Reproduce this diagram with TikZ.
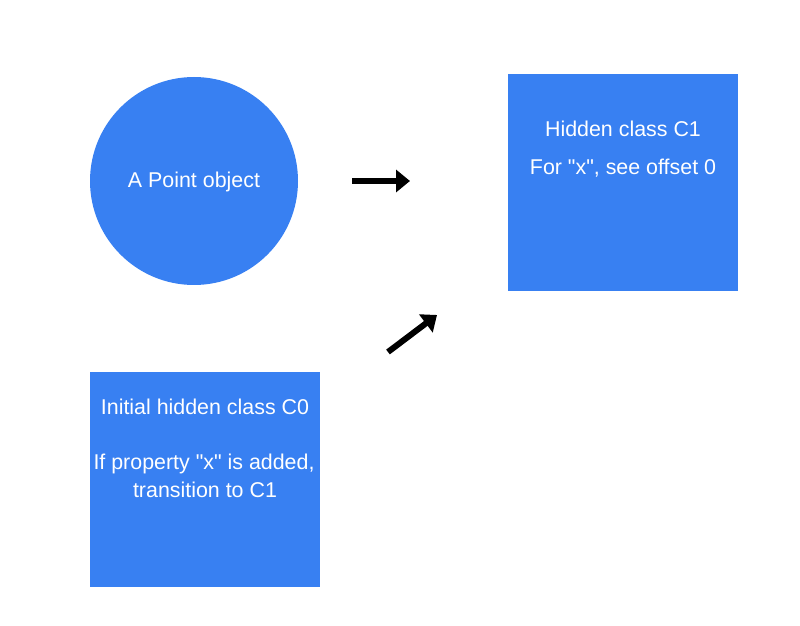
\documentclass[tikz,border=0pt]{standalone}
\usepackage{fontspec}
\setmainfont{Liberation Sans}
\usetikzlibrary{positioning,arrows.meta}
\definecolor{hcblue}{RGB}{56,128,242}

\begin{document}
\begin{tikzpicture}[
  x=0.5pt,y=-0.5pt,
  font=\fontsize{10.7}{13}\selectfont,
  obj/.style={circle,fill=hcblue,minimum size=104pt,inner sep=0pt},
  cls/.style={rectangle,fill=hcblue,minimum width=115pt,inner sep=0pt},
  txt/.style={text=white,anchor=base,inner sep=0pt},
  ar/.style={-{Triangle[length=7pt,width=11pt]},line width=3pt,black},
]
\useasboundingbox (0,0) rectangle (800,626);
\node[obj] (point) at (194,181) {};
\node[cls,minimum height=108.5pt] (c1) at (623,182.5) {};
\node[cls,minimum height=107.5pt] (c0) at (205,479.5) {};
\node[txt] (pointtxt) at (194,188) {A Point object};
\node[txt] (c1name) at (623,137) {Hidden class C1};
\node[txt] (c1off) at (623,175) {For \textquotedbl x\textquotedbl, see offset 0};
\node[txt] (c0name) at (205,415) {Initial hidden class C0};
\node[txt] (c0prop) at (204,470) {If property \textquotedbl x\textquotedbl\ is added,};
\node[txt] (c0trans) at (205,498) {transition to C1};
\coordinate (a1s) at (352,181); \coordinate (a1e) at (410,181);
\coordinate (a2s) at (388,352); \coordinate (a2e) at (437,315);
\draw[ar] (a1s)--(a1e);
\draw[ar] (a2s)--(a2e);
\end{tikzpicture}
\end{document}
